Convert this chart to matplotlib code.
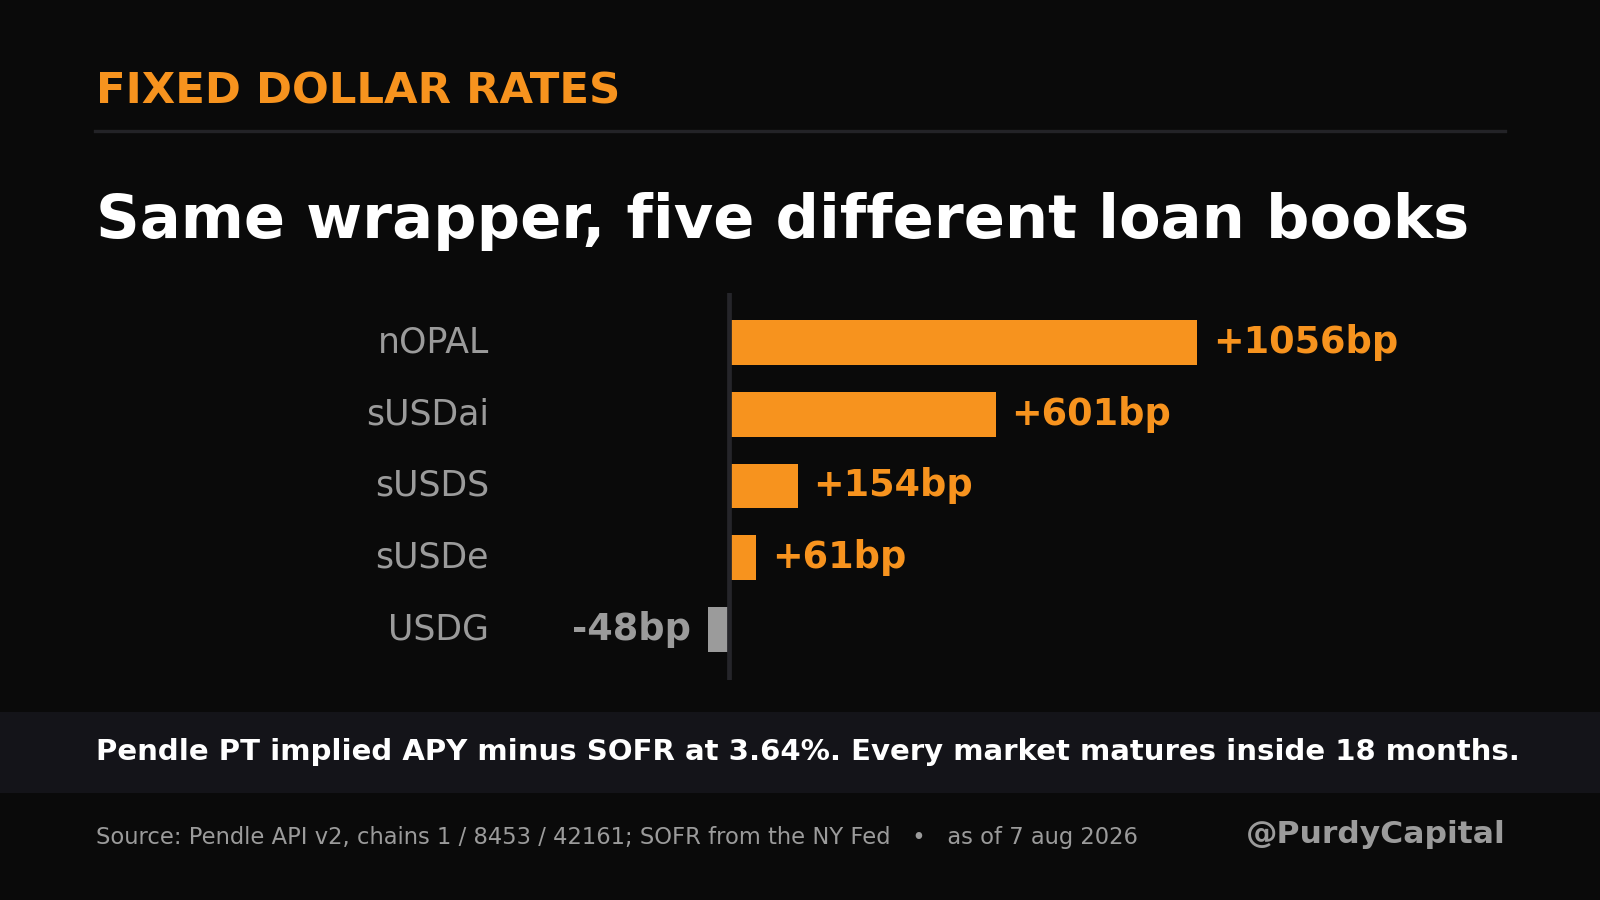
import matplotlib
matplotlib.use("Agg")
import matplotlib.pyplot as plt
from matplotlib.patches import Rectangle
from matplotlib.lines import Line2D

# =========================
# Data
# =========================
categories = ["nOPAL", "sUSDai", "sUSDS", "sUSDe", "USDG"]
spread_bp = [1056, 601, 154, 61, -48]

kicker = "FIXED DOLLAR RATES"
headline = "Same wrapper, five different loan books"
takeaway = "Pendle PT implied APY minus SOFR at 3.64%. Every market matures inside 18 months."
source = "Source: Pendle API v2, chains 1 / 8453 / 42161; SOFR from the NY Fed   \u2022   as of 7 aug 2026"
handle = "@PurdyCapital"

# colours
BG = "#0a0a0a"
ORANGE = "#f7931e"
GREY = "#9b9b9b"
RULE = "#232327"
BAND = "#141419"

plt.rcParams["font.family"] = ["DejaVu Sans"]

fig = plt.figure(figsize=(16, 9), dpi=100, facecolor=BG)

# header
fig.text(0.06, 0.8852, kicker, color=ORANGE, fontsize=31.25, fontweight="bold",
         ha="left", va="baseline")
fig.add_artist(Line2D([0.0594, 0.9406], [0.8544, 0.8544], color=RULE, linewidth=2.4,
                      transform=fig.transFigure))
fig.text(0.06, 0.7352, headline, color="white", fontsize=43.7, fontweight="bold",
         ha="left", va="baseline")

# =========================
# Bars
# =========================
ax = fig.add_axes([0.3125, 0.2444, 0.65625, 0.4297])
ax.set_facecolor(BG)

ypos = list(range(len(categories)))
colors = [ORANGE if v >= 0 else GREY for v in spread_bp]
ax.barh(ypos, spread_bp, height=0.623, color=colors, zorder=2)
ax.axvline(0, color="#25252a", linewidth=3.4, zorder=3)

for y, v, c in zip(ypos, spread_bp, colors):
    off = 11.5 if v >= 0 else -12
    ax.annotate(f"{v:+d}bp", xy=(v, y), xytext=(off, 0), textcoords="offset points",
                ha="left" if v >= 0 else "right", va="center",
                color=c, fontsize=26.4, fontweight="bold")

ax.set_xlim(-517.6, 1852.6)
ax.set_ylim(4.707, -0.686)
ax.set_yticks(ypos)
ax.set_yticklabels(categories, color=GREY, fontsize=25, va="center")
ax.tick_params(axis="y", length=0, pad=8)
ax.set_xticks([])
for s in ax.spines.values():
    s.set_visible(False)

# =========================
# Footer
# =========================
fig.add_artist(Rectangle((0, 1 - 793 / 900), 1, 81 / 900, transform=fig.transFigure,
                         facecolor=BAND, edgecolor="none", zorder=0))
fig.text(0.06, 1 - 760 / 900, takeaway, color="white", fontsize=21, fontweight="bold",
         ha="left", va="baseline")
fig.text(0.06, 1 - 844 / 900, source, color=GREY, fontsize=16.27,
         ha="left", va="baseline")
fig.text(0.9413, 1 - 843 / 900, handle, color=GREY, fontsize=22.6, fontweight="bold",
         ha="right", va="baseline")

fig.savefig("out.png", dpi=100, facecolor=BG)
